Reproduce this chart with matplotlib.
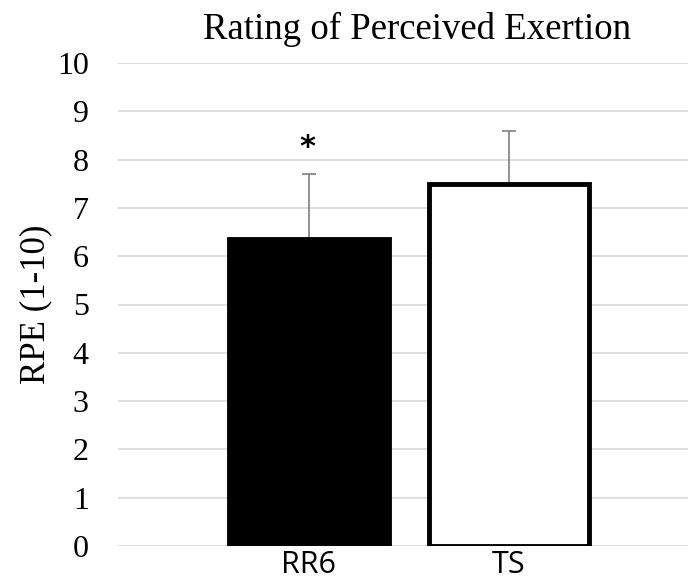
import matplotlib.pyplot as plt
import numpy as np

groups = ["RR6", "TS"]
rpe_mean = [6.35, 7.5]
rpe_sd = [1.35, 1.1]
bar_colors = ["black", "white"]
sig_marks = ["*", ""]

plt.rcParams["font.family"] = ["Liberation Serif", "DejaVu Serif"]

fig = plt.figure(figsize=(6.91, 5.86), dpi=100)
ax = fig.add_axes([118 / 691, 1 - 546 / 586, 570 / 691, 483 / 586])

x = np.arange(len(groups))
ax.bar(x, rpe_mean, width=0.8, color=bar_colors, edgecolor="black",
       linewidth=3.5, zorder=3)
ax.errorbar(x, rpe_mean, yerr=[np.zeros(len(x)), rpe_sd], fmt="none",
            ecolor="#7f7f7f", elinewidth=1.2, capsize=5, capthick=1.2, zorder=2)

# significance marker above the error bar
for xi, m, s, mark in zip(x, rpe_mean, rpe_sd, sig_marks):
    if mark:
        ax.text(xi - 0.01, m + s + 0.55, mark, ha="center", va="center",
                fontsize=22, fontweight="bold", family="DejaVu Sans")

ax.set_xlim(-0.955, 1.895)
ax.set_ylim(0, 10)
ax.set_yticks(range(0, 11))
ax.yaxis.grid(True, color="#d9d9d9", linewidth=1.2, zorder=0)
ax.set_axisbelow(True)
ax.tick_params(axis="y", length=0, pad=21, labelsize=23)
ax.tick_params(axis="x", length=0, pad=3)
ax.set_xticks(x)
ax.set_xticklabels(groups, fontsize=22, family="Open Sans")
for sp in ax.spines.values():
    sp.set_visible(False)

ax.set_ylabel("RPE (1-10)", fontsize=25, labelpad=3)
ax.set_title("Rating of Perceived Exertion", fontsize=26.5, x=(417 - 118) / 570, pad=17)

fig.savefig("out.png", dpi=100)
